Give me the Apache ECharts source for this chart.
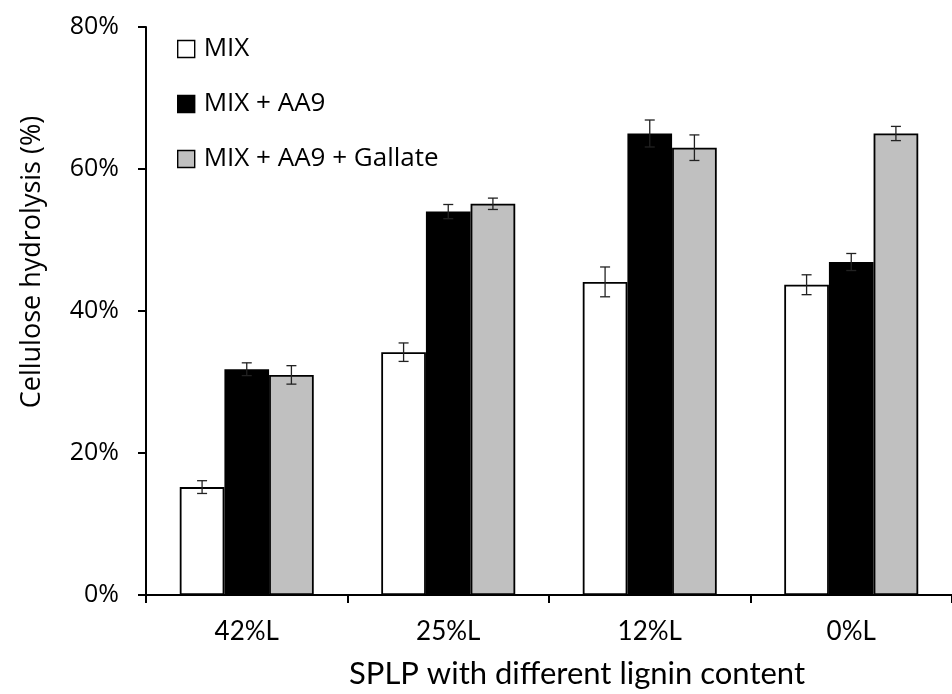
<!DOCTYPE html>
<html>
<head>
<meta charset="utf-8">
<script src="https://cdn.jsdelivr.net/npm/echarts@6/dist/echarts.min.js"></script>
<style>
html,body{margin:0;padding:0;background:#fff;}
#chart{width:952px;height:694px;}
</style>
</head>
<body>
<div id="chart"></div>
<script>
var categories = ['42%L', '25%L', '12%L', '0%L'];
var seriesNames = ['MIX', 'MIX + AA9', 'MIX + AA9 + Gallate'];
var mixValues = [15.2, 34.2, 44.1, 43.7];
var mixErrors = [0.9, 1.3, 2.1, 1.4];
var aa9Values = [31.8, 54.0, 65.0, 46.9];
var aa9Errors = [0.9, 1.0, 1.9, 1.2];
var gallateValues = [31.0, 55.1, 63.0, 65.0];
var gallateErrors = [1.3, 0.8, 1.8, 1.0];
var yTicks = [0, 20, 40, 60, 80];

var fills = ['#ffffff', '#000000', '#c0c0c0'];
var valueSets = [mixValues, aa9Values, gallateValues];
var errorSets = [mixErrors, aa9Errors, gallateErrors];
var CAT_GAP = 0.335;

var chart = echarts.init(document.getElementById('chart'), null, {renderer: 'canvas'});

var series = [];
valueSets.forEach(function (vals, i) {
  series.push({
    name: seriesNames[i],
    type: 'bar',
    data: vals,
    barGap: '0%',
    barCategoryGap: (CAT_GAP * 100) + '%',
    itemStyle: {color: fills[i], borderColor: '#000', borderWidth: 1.8},
    emphasis: {disabled: true},
    z: 2
  });
});
valueSets.forEach(function (vals, i) {
  var errData = vals.map(function (v, k) { return [k, v - errorSets[i][k], v + errorSets[i][k]]; });
  series.push({
    type: 'custom',
    name: 'err' + i,
    data: errData,
    z: 5,
    silent: true,
    encode: {x: 0, y: [1, 2]},
    renderItem: function (params, api) {
      var k = api.value(0);
      var band = api.size([1, 0])[0];
      var barW = band * (1 - CAT_GAP) / 3;
      var lo = api.coord([k, api.value(1)]);
      var hi = api.coord([k, api.value(2)]);
      var x = lo[0] + (i - 1) * barW;
      var cap = 5;
      var style = {stroke: '#222', lineWidth: 1.3};
      return {
        type: 'group',
        children: [
          {type: 'line', shape: {x1: x, y1: lo[1], x2: x, y2: hi[1]}, style: style},
          {type: 'line', shape: {x1: x - cap, y1: lo[1], x2: x + cap, y2: lo[1]}, style: style},
          {type: 'line', shape: {x1: x - cap, y1: hi[1], x2: x + cap, y2: hi[1]}, style: style}
        ]
      };
    }
  });
});

chart.setOption({
  animation: false,
  backgroundColor: '#fff',
  grid: {left: 146, right: -9, top: 27, bottom: 96, containLabel: false},
  legend: {
    data: seriesNames,
    orient: 'vertical',
    left: 177,
    top: 36,
    padding: 0,
    itemWidth: 17,
    itemHeight: 17,
    itemGap: 29,
    selectedMode: false,
    icon: 'rect',
    itemStyle: {borderColor: '#000', borderWidth: 1.4},
    textStyle: {fontFamily: 'Open Sans', fontSize: 26, color: '#000', padding: [0, 0, 0, 4]}
  },
  xAxis: {
    type: 'category',
    data: categories,
    name: 'SPLP with different lignin content',
    nameLocation: 'middle',
    nameGap: 63,
    nameTextStyle: {fontFamily: 'Lato', fontSize: 31, color: '#000', padding: [0, 0, 0, 56]},
    axisLine: {lineStyle: {color: '#000', width: 2}},
    axisTick: {show: true, length: 8, inside: false, lineStyle: {color: '#000', width: 2}},
    axisLabel: {fontFamily: 'Lato', fontSize: 26, color: '#000', margin: 24},
    splitLine: {show: false}
  },
  yAxis: {
    type: 'value',
    min: yTicks[0],
    max: yTicks[yTicks.length - 1],
    interval: yTicks[1] - yTicks[0],
    name: 'Cellulose hydrolysis (%)',
    nameLocation: 'middle',
    nameGap: 100,
    nameRotate: 90,
    nameTextStyle: {fontFamily: 'Open Sans', fontSize: 27, color: '#000', padding: [0, 0, 0, 98]},
    axisLine: {show: true, lineStyle: {color: '#000', width: 2}},
    axisTick: {show: true, length: 8, inside: false, lineStyle: {color: '#000', width: 2}},
    axisLabel: {fontFamily: 'Open Sans', fontSize: 25, color: '#000', margin: 27, formatter: '{value}%'},
    splitLine: {show: false}
  },
  series: series
});
</script>
</body>
</html>
